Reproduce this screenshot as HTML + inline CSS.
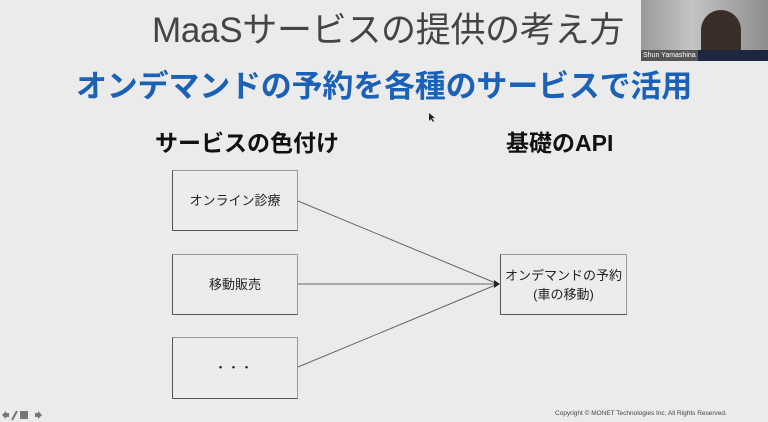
<!DOCTYPE html>
<html><head><meta charset="utf-8"><style>
body{margin:0;width:768px;height:422px;overflow:hidden;background:#ebebeb;position:relative;font-family:"Liberation Sans","Noto Sans CJK JP",sans-serif}
.a{position:absolute;white-space:nowrap}
.box{position:absolute;border:1px solid #555;border-right-color:#999;border-top-color:#999;background:#ececec;font-size:13px;color:#222;display:flex;align-items:center;justify-content:center;text-align:center;line-height:19px}
</style></head><body>
<div class="a" style="left:148px;top:2px;width:480px;text-align:center;font-size:35px;color:#444;letter-spacing:-0.3px">MaaSサービスの提供の考え方</div>
<div class="a" style="left:64px;top:61px;width:640px;text-align:center;font-size:31px;font-weight:bold;color:#1b62b6;letter-spacing:-0.2px">オンデマンドの予約を各種のサービスで活用</div>
<div class="a" style="left:155px;top:124px;font-size:23px;font-weight:bold;color:#111">サービスの色付け</div>
<div class="a" style="left:506px;top:124px;font-size:23px;font-weight:bold;color:#111">基礎のAPI</div>
<div class="box" style="left:172px;top:170px;width:124px;height:59px">オンライン診療</div>
<div class="box" style="left:172px;top:254px;width:124px;height:59px">移動販売</div>
<div class="box" style="left:172px;top:337px;width:124px;height:60px"><span style="font-size:10px;letter-spacing:3px;font-weight:bold">・・・</span></div>
<div class="box" style="left:500px;top:254px;width:125px;height:59px">オンデマンドの予約<br>(車の移動)</div>
<svg class="a" style="left:0;top:0" width="768" height="422">
<g stroke="#666" stroke-width="1" fill="none">
<line x1="298" y1="201" x2="498" y2="284"/>
<line x1="298" y1="284" x2="498" y2="284"/>
<line x1="298" y1="367" x2="498" y2="284"/>
</g>
<polygon points="500,284 494,280 494,288" fill="#222"/>
<path d="M429 113 l0 8 l2 -2 l2 3 l1 -1 l-2 -3 l3 0z" fill="#222"/>
<g fill="#777"><polygon points="2,415 6,411 6,413 9,413 9,417 6,417 6,419"/><line x1="12" y1="420" x2="17" y2="411" stroke="#777" stroke-width="2"/><rect x="20" y="411" width="8" height="8"/><polygon points="42,415 38,411 38,413 35,413 35,417 38,417 38,419"/></g>
</svg>
<div class="a" style="left:641px;top:0;width:127px;height:61px;background:linear-gradient(90deg,#9a9a9a,#c4c4c4 40%,#8d8d8d);overflow:hidden">
<div class="a" style="left:60px;top:10px;width:40px;height:55px;border-radius:20px 20px 6px 6px;background:#3a2e28"></div>
<div class="a" style="left:55px;top:50px;width:72px;height:12px;background:#1e2740"></div>
<div class="a" style="left:0;top:50px;width:55px;height:11px;background:#555;color:#fff;font-size:7px;line-height:11px;padding-left:2px">Shun Yamashina</div>
</div>
<div class="a" style="left:555px;top:410px;font-size:6.5px;color:#444">Copyright © MONET Technologies Inc. All Rights Reserved.</div>
</body></html>
